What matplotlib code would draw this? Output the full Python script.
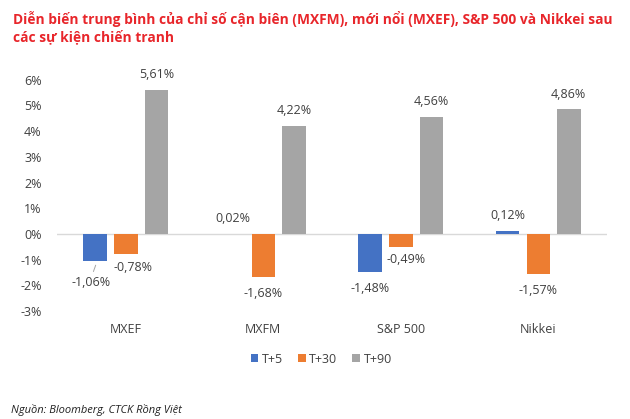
import matplotlib
matplotlib.use("Agg")
import matplotlib.pyplot as plt
import numpy as np

plt.rcParams['font.family'] = ['Open Sans', 'DejaVu Sans']

# dữ liệu
chi_so = ['MXEF', 'MXFM', 'S&P 500', 'Nikkei']
t5 = [-1.06, 0.02, -1.48, 0.12]
t30 = [-0.78, -1.68, -0.49, -1.57]
t90 = [5.61, 4.22, 4.56, 4.86]
nhan_chuoi = ['T+5', 'T+30', 'T+90']
mau = ['#4472C4', '#ED7D31', '#A5A5A5']

# dịch nhãn riêng (px) cho vài cột: (chuỗi, chỉ số) -> (dx, dy)
dich_nhan = {(0, 0): (-4, -21), (1, 0): (7, -13), (1, 2): (5, -13)}

fig = plt.figure(figsize=(6.3, 4.19), dpi=100)
ax = fig.add_axes([0.0905, 0.245, 0.873, 0.577])

x = np.arange(len(chi_so))
rong = 0.171
buoc = 0.222
chuoi = [t5, t30, t90]

for i, vals in enumerate(chuoi):
    xs = x + (i - 1) * buoc
    ax.bar(xs, vals, width=rong, color=mau[i], label=nhan_chuoi[i], zorder=2)
    for j, v in enumerate(vals):
        dx, dy = dich_nhan.get((i, j), (0, 15 if v >= 0 else -16))
        txt = ('%.2f%%' % v).replace('.', ',')
        ax.annotate(txt, (xs[j], v), xytext=(dx * 0.72, dy * 0.72),
                    textcoords='offset points', ha='center', va='center',
                    fontsize=9, color='#404040', annotation_clip=False)

# đường dẫn cho nhãn -1,06%
ax.annotate('', xy=(x[0] - buoc + 0.01, t5[0] - 0.05), xytext=(x[0] - buoc - 0.02, t5[0] - 0.5),
            arrowprops=dict(arrowstyle='-', color='#A6A6A6', lw=0.7))

ax.axhline(0, color='#D9D9D9', lw=1, zorder=1)
ax.set_xlim(-0.5, 3.5)
ax.set_ylim(-3.2, 6.2)
ax.set_yticks(range(-3, 7))
ax.set_yticklabels(['%d%%' % v for v in range(-3, 7)])
ax.set_xticks(x)
ax.set_xticklabels(chi_so)
ax.tick_params(axis='both', length=0, labelsize=9, colors='#404040')
ax.tick_params(axis='y', pad=11)
ax.tick_params(axis='x', pad=5)
for s in ax.spines.values():
    s.set_visible(False)

fig.legend(loc='center', bbox_to_anchor=(0.51, 0.143), ncol=3, frameon=False,
           fontsize=9, handlelength=0.6, handleheight=0.6, handletextpad=0.3,
           columnspacing=1.2, labelcolor='#404040')

fig.text(0.021, 0.974, 'Diễn biến trung bình của chỉ số cận biên (MXFM), mới nổi (MXEF), S&P 500 và Nikkei sau\ncác sự kiện chiến tranh',
         fontsize=9.9, fontweight='bold', color='#E8262B', va='top', linespacing=1.25)
fig.text(0.018, 0.022, 'Nguồn: Bloomberg, CTCK Rồng Việt', fontsize=8, style='italic',
         color='#222222', va='center')

fig.savefig('out.png', dpi=100)
